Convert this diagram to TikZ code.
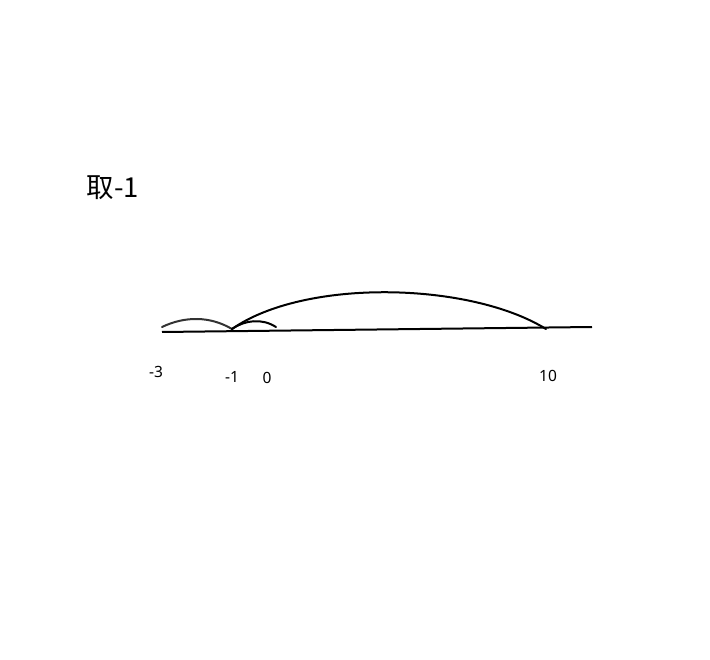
\documentclass[tikz,border=0pt]{standalone}
\usepackage{fontspec}
\setmainfont{Noto Sans}
\newfontfamily\cjk{Noto Sans CJK SC}
\usetikzlibrary{positioning}

\begin{document}
\begin{tikzpicture}[
    x=1pt, y=-1pt,
    tick/.style={font=\fontsize{15.5}{18}\selectfont, inner sep=0pt},
    arc/.style={line width=2pt, line cap=round}
]
\useasboundingbox (0,0) rectangle (710,660);

\node[font=\cjk\fontsize{27.5}{30}\selectfont, inner sep=0pt] (title) at (113,188) {取-1};

% number line
\coordinate (start) at (162,332);
\coordinate (end) at (592,327);
\draw[line width=2pt] (start) -- (end);

\coordinate (pm3) at (162,327);
\coordinate (pm1) at (232,329);
\coordinate (p0) at (276,327);
\coordinate (p10) at (546,329);

\draw[arc, black!80] (pm3) .. controls (185,316) and (210,316) .. (pm1);
\draw[arc] (pm1) .. controls (245,320) and (262,318) .. (p0);
\draw[arc] (pm1) .. controls (305,278) and (470,282) .. (p10);

\node[tick] (lm3) at (156,372) {-3};
\node[tick] (lm1) at (232,377) {-1};
\node[tick] (l0) at (267,378) {0};
\node[tick] (l10) at (548,376) {10};

\end{tikzpicture}
\end{document}
